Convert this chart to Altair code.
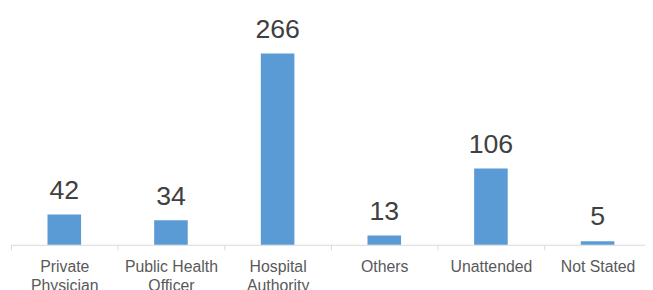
import altair as alt
import pandas as pd

categories = ["Private\nPhysician", "Public Health\nOfficer", "Hospital\nAuthority", "Others", "Unattended", "Not Stated"]
values = [42, 34, 266, 13, 106, 5]

df = pd.DataFrame({"cat": categories, "val": values})

x = alt.X("cat:N", sort=None, title=None,
          scale=alt.Scale(range=[3, 651], paddingInner=0, paddingOuter=0),
          axis=alt.Axis(labelExpr="isValid(datum.value) ? split(datum.value, '\\n') : ''", labelAngle=0,
                        labelFont="Liberation Sans", labelFontSize=16, labelColor="#595959",
                        labelLineHeight=18.5, labelPadding=9.5, labelBaseline="top",
                        tickBand="extent", tickSize=5, tickColor="#d9d9d9",
                        domainColor="#d9d9d9", domainWidth=1, grid=False))
y = alt.Y("val:Q", scale=alt.Scale(domain=[0, 327], nice=False, zero=True), axis=None)

bars = alt.Chart(df).mark_bar(color="#5b9bd5", width=34).encode(x=x, y=y)
labels = alt.Chart(df).mark_text(font="Liberation Sans", fontSize=27, color="#404040",
                                 baseline="alphabetic", dy=-16).encode(x=x, y=y, text="val:Q")

chart = (bars + labels).properties(
    width=645, height=238,
    autosize=alt.AutoSizeParams(type="none"),
    padding={"left": 0, "top": 0, "right": 0, "bottom": 44},
).configure_view(stroke=None)

chart.save("out.html", embed_options={"renderer": "svg", "actions": False})
